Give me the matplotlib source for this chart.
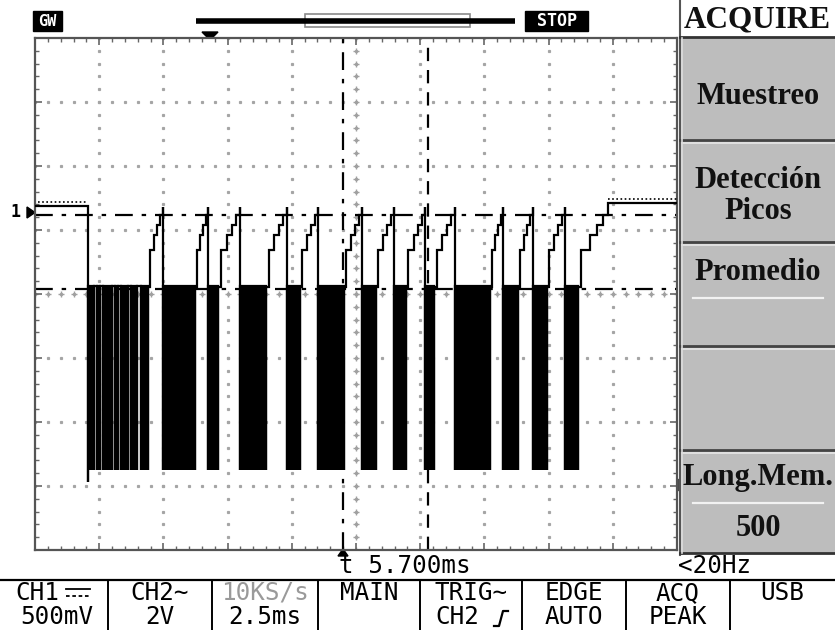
import matplotlib
matplotlib.use("Agg")
import matplotlib.pyplot as plt
import numpy as np
from matplotlib.patches import Rectangle, Polygon

W, H = 835, 630

# ---------------- data (time in ms, 2.5 ms/div; CH1 volts, 0.5 V/div) ----------------
MS_PER_DIV = 2.5
V_PER_DIV = 0.5

burst_start = [2.06, 2.41, 2.65, 3.12, 3.35, 3.74, 4.13, 4.98, 6.74, 7.98, 9.81, 11.02,
               12.73, 13.98, 15.19, 16.36, 18.22, 19.39, 20.64]
burst_end = [2.30, 2.53, 3.00, 3.23, 3.62, 3.97, 4.40, 6.23, 7.13, 9.00, 10.32, 12.03,
             13.28, 14.45, 15.54, 17.72, 18.81, 19.94, 21.14]
# gap after burst i shows the stepped rise (1) or stays low (0)
gap_rise = [0, 0, 0, 0, 0, 0, 1, 1, 1, 1, 1, 1, 1, 1, 1, 1, 1, 1]

level_idle = 0.6875
level_peak = 0.672
level_top = 0.0625
level_low = -1.375
level_first_drop = -1.47
level_final = 0.711
final_settle_ms = 22.31

rise_frac = [0.0, 0.12, 0.40, 0.62, 0.82, 1.0]
rise_level = [0.055, 0.34, 0.46, 0.54, 0.62, 0.68]

cursor_h = [0.617, 0.039]      # dash-dot horizontal markers (V)
cursor_v = [11.99]             # dash-dot vertical (ms)
cursor_v2 = [15.30]            # dashed vertical (ms)

bottom_row1 = ["CH1", "CH2∼", "10KS/s", "MAIN", "TRIG∼", "EDGE", "ACQ", "USB"]
bottom_row2 = ["500mV", "2V", "2.5ms", "", "CH2", "AUTO", "PEAK", ""]
menu_items = ["Muestreo", "Detección\nPicos", "Promedio", "", "Long.Mem."]

# ---------------- figure ----------------
fig = plt.figure(figsize=(W / 100, H / 100), dpi=100)
fig.patch.set_facecolor("white")


def fx(x):
    return x / W


def fy(y):
    return 1 - y / H


bg = fig.add_axes([0, 0, 1, 1])
bg.set_xlim(0, W)
bg.set_ylim(H, 0)
bg.axis("off")

# main scope screen
x0, x1, y0, y1 = 35, 677, 38, 550
ax = fig.add_axes([fx(x0), fy(y1), (x1 - x0) / W, (y1 - y0) / H])
ax.set_xlim(0, 10 * MS_PER_DIV)
ax.set_ylim(-4 * V_PER_DIV, 4 * V_PER_DIV)
ax.set_facecolor("white")
for s in ax.spines.values():
    s.set_color("#555555")
    s.set_linewidth(1.6)
ax.set_xticks(np.arange(0, 10.01, 1) * MS_PER_DIV)
ax.set_yticks(np.arange(-4, 4.01, 1) * V_PER_DIV)
ax.set_xticks(np.arange(0, 10.01, 0.2) * MS_PER_DIV, minor=True)
ax.set_yticks(np.arange(-4, 4.01, 0.2) * V_PER_DIV, minor=True)
ax.tick_params(which="both", direction="in", top=True, right=True, labelleft=False,
               labelbottom=False, color="#666666")
ax.tick_params(which="major", length=5, width=1.2)
ax.tick_params(which="minor", length=3, width=1.0)

# dotted grid
xs_minor = np.arange(0, 10.01, 0.2) * MS_PER_DIV
ys_minor = np.arange(-4, 4.01, 0.2) * V_PER_DIV
for gx in range(1, 10):
    ax.plot(np.full_like(ys_minor, gx * MS_PER_DIV), ys_minor, ls="none", marker="s",
            ms=1.3, color="#a5a5a5", zorder=1)
for gy in range(-3, 4):
    ax.plot(xs_minor, np.full_like(xs_minor, gy * V_PER_DIV), ls="none", marker="s",
            ms=1.3, color="#a5a5a5", zorder=1)
# center crosses
ax.plot(np.full_like(ys_minor, 5 * MS_PER_DIV), ys_minor, ls="none", marker="+",
        ms=5, mew=1.0, color="#a0a0a0", zorder=1)
ax.plot(xs_minor, np.zeros_like(xs_minor), ls="none", marker="+",
        ms=5, mew=1.0, color="#a0a0a0", zorder=1)

# cursors
for v in cursor_h:
    ax.axhline(v, color="black", lw=1.6, ls=(0, (8, 4, 2, 4)), zorder=2)
for t in cursor_v:
    ax.axvline(t, color="black", lw=1.6, ls=(0, (8, 4, 2, 4)), zorder=2)
for t in cursor_v2:
    ax.axvline(t, color="black", lw=1.6, ls=(0, (6, 4)), zorder=2)

# waveform
px = [0.0, burst_start[0], burst_start[0]]
py = [level_idle, level_idle, level_first_drop]
for i, (s, e) in enumerate(zip(burst_start, burst_end)):
    ax.fill_between([s, e], [level_low, level_low], [level_top, level_top],
                    color="black", lw=0, zorder=3)
    px += [s, s, e, e]
    py += [level_low, level_top, level_top, level_low]
    px += [e, e]
    py += [level_low, level_top]
    if i < len(burst_start) - 1:
        ns = burst_start[i + 1]
        if gap_rise[i]:
            for k in range(len(rise_frac) - 1):
                xa = e + rise_frac[k] * (ns - e)
                xb = e + rise_frac[k + 1] * (ns - e)
                px += [xa, xa, xb]
                py += [py[-1], rise_level[k], rise_level[k]]
            px += [ns, ns, ns]
            py += [rise_level[-1], level_peak, level_low]
        else:
            px += [ns, ns]
            py += [level_top, level_low]
    else:
        for k in range(len(rise_frac) - 1):
            xa = e + rise_frac[k] * (final_settle_ms - e)
            xb = e + rise_frac[k + 1] * (final_settle_ms - e)
            px += [xa, xa, xb]
            py += [py[-1], rise_level[k], rise_level[k]]
        px += [final_settle_ms, final_settle_ms, 10 * MS_PER_DIV]
        py += [rise_level[-1], level_final, level_final]
ax.plot(px, py, color="black", lw=1.6, zorder=4, solid_joinstyle="miter")
# ripple texture on idle levels
ax.plot([0.1, burst_start[0]], [level_idle + 0.03, level_idle + 0.03], color="black",
        lw=1.2, ls=(0, (1, 1.5)), zorder=4)
ax.plot([final_settle_ms, 10 * MS_PER_DIV], [level_final + 0.03, level_final + 0.03],
        color="black", lw=1.2, ls=(0, (1, 1.5)), zorder=4)

# ---------------- top bar ----------------
bg.add_patch(Rectangle((33, 11), 29, 20, color="black"))
bg.text(47.5, 21.5, "GW", color="white", fontsize=11, fontweight="bold",
        family="DejaVu Sans Mono", ha="center", va="center")
bg.plot([196, 515], [21, 21], color="black", lw=4, solid_capstyle="butt")
bg.add_patch(Rectangle((305, 14), 165, 13, fill=False, ec="#8a8a8a", lw=1.2))
bg.add_patch(Rectangle((525, 11), 63, 20, color="black"))
bg.text(556.5, 21.5, "STOP", color="white", fontsize=12, fontweight="bold",
        family="DejaVu Sans Mono", ha="center", va="center")
# triangles
bg.add_patch(Polygon([[202, 32], [218, 32], [210, 40]], color="black"))
bg.add_patch(Polygon([[336, 39], [349, 39], [342.5, 46]], color="black"))
# left markers
bg.add_patch(Polygon([[27, 207], [27, 218], [35, 212.5]], color="black"))
bg.text(16, 212, "1", fontsize=12, fontweight="bold", family="DejaVu Sans Mono",
        ha="center", va="center")
bg.add_patch(Polygon([[36, 285], [36, 295], [43, 290]], color="black"))
bg.add_patch(Polygon([[678, 479], [678, 491], [671, 485]], color="black"))
# trigger marker bottom
bg.add_patch(Polygon([[338, 556], [348, 556], [343, 549]], color="black"))

# ---------------- right menu ----------------
pan_x = 680
bg.plot([pan_x, pan_x], [0, 555], color="#555555", lw=1.5)
bg.text(757, 20, "ACQUIRE", fontsize=22.5, fontweight="bold", family="Liberation Serif",
        ha="center", va="center", color="#111111")
bg.plot([pan_x, W], [37, 37], color="#333333", lw=2)
btn_edges = [38, 140, 242, 346, 450, 553]
for i in range(5):
    top, bot = btn_edges[i], btn_edges[i + 1]
    bg.add_patch(Rectangle((pan_x + 1, top), W - pan_x, bot - top, color="#bdbdbd", lw=0))
    if i > 0:
        bg.plot([pan_x, W], [top, top], color="#444444", lw=2)
        bg.plot([pan_x + 2, W], [top + 2.5, top + 2.5], color="#e6e6e6", lw=1.2)
bg.plot([pan_x, W], [553, 553], color="#333333", lw=2)
bg.plot([pan_x + 2, pan_x + 2], [38, 553], color="#dddddd", lw=1.2)

menu_y = [96, 196, 272, 398, 478]
for txt, yy in zip(menu_items, menu_y):
    if txt:
        bg.text(758, yy, txt, fontsize=22, fontweight="bold", family="Liberation Serif",
                ha="center", va="center", color="#111111", linespacing=1.05)
bg.plot([693, 823], [298, 298], color="#f2f2f2", lw=1.6)
bg.plot([693, 823], [503, 503], color="#f2f2f2", lw=1.6)
bg.text(758, 528, "500", fontsize=22, fontweight="bold", family="Liberation Serif",
        ha="center", va="center", color="#111111")

# ---------------- bottom status ----------------
mono = "DejaVu Sans Mono"
FS = 17.5
bg.text(339, 566, "t 5.700ms", fontsize=FS, family=mono, ha="left", va="center")
bg.text(678, 566, "<20Hz", fontsize=FS, family=mono, ha="left", va="center")
bg.plot([0, W], [580, 580], color="black", lw=1.6)
seps = [108, 212, 318, 420, 522, 626, 730]
for sx in seps:
    bg.plot([sx, sx], [580, 630], color="black", lw=1.4)
centers = [57, 160, 265, 369, 471, 574, 678, 782]
for i, c in enumerate(centers):
    col = "#9a9a9a" if i == 2 else "black"
    r1 = bottom_row1[i]
    if i == 0:
        bg.text(15, 593, r1, fontsize=FS, family=mono, ha="left", va="center", color=col)
        bg.plot([66, 90], [589, 589], color="black", lw=1.3)
        bg.plot([66, 90], [596, 596], color="black", lw=1.3, ls=(0, (2, 1.5)))
    else:
        bg.text(c, 593, r1, fontsize=FS, family=mono, ha="center", va="center", color=col)
    if i == 4:
        bg.text(c - 14, 617, bottom_row2[i], fontsize=FS, family=mono, ha="center",
                va="center")
        bg.plot([494, 499, 503, 508], [626, 626, 611, 611], color="black", lw=1.6)
    elif bottom_row2[i]:
        bg.text(c, 617, bottom_row2[i], fontsize=FS, family=mono, ha="center", va="center")

fig.savefig("out.png", dpi=100)
